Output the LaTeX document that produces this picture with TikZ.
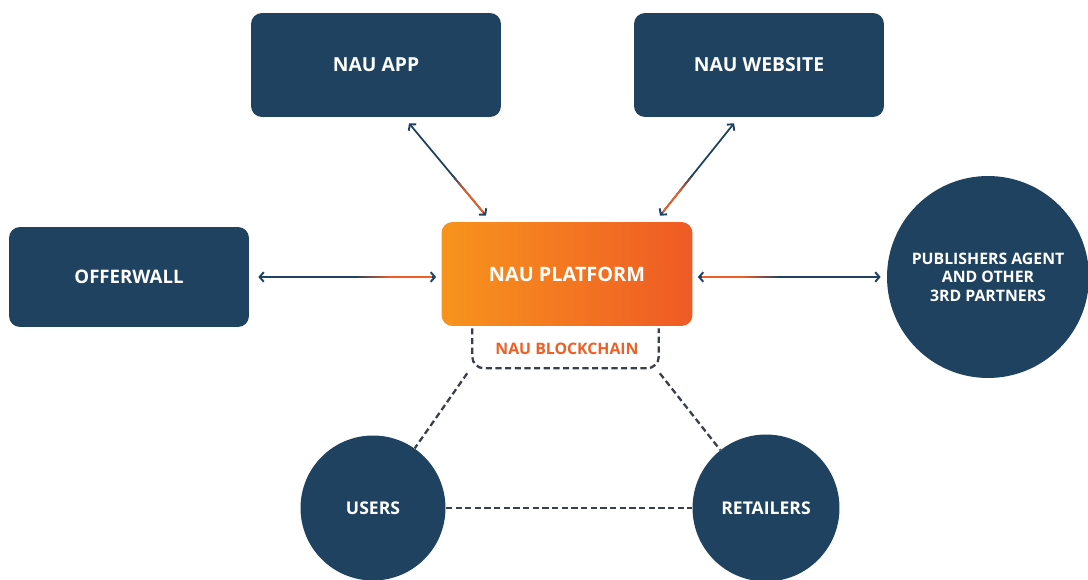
\documentclass[tikz,border=0pt]{standalone}
\usepackage{fontspec}
\setmainfont{Open Sans}
\usetikzlibrary{calc,arrows.meta}
\definecolor{navy}{HTML}{1F4260}
\definecolor{nauorange}{HTML}{F05F23}
\definecolor{platformleft}{HTML}{F7941D}
\definecolor{platformright}{HTML}{EF5A24}
\definecolor{chaingrey}{HTML}{3A4049}
\tikzset{
	box/.style={fill=navy, rounded corners=0.22cm, minimum width=5cm, minimum height=2.08cm, text=white, font=\bfseries\fontsize{11}{13}\selectfont},
	ball/.style={circle, fill=navy, text=white, align=center, inner sep=0pt, font=\bfseries\fontsize{10}{12}\selectfont},
	link/.style={line width=1pt, draw=navy},
	tips/.style={{Straight Barb[length=2.4pt,width=5.5pt,line width=1.1pt]}-{Straight Barb[length=2.4pt,width=5.5pt,line width=1.1pt]}},
	chain/.style={draw=chaingrey, line width=1.3pt, dash pattern=on 3.5pt off 2pt},
}
% navy at #1, turning orange towards #2
\newcommand\fadelink[2]{%
	\draw[link, tips] (#1) -- (#2);
	\foreach \k in {1,...,9}
		\draw[link, draw=nauorange!\k0!navy] ($(#1)!{0.54+0.02*\k}!(#2)$) -- ($(#1)!{0.565+0.02*\k}!(#2)$);
	\draw[link, draw=nauorange, shorten >=2.4pt] ($(#1)!0.74!(#2)$) -- (#2);
}
\begin{document}
\begin{tikzpicture}[x=0.02cm, y=-0.02cm]
		%%%%% START %%%%%
		\useasboundingbox[fill=white] (0, 0) rectangle (1088, 580);
		
		\node[box] (app) at (376, 65) {NAU APP};
		\node[box] (website) at (759, 65) {NAU WEBSITE};
		\node[box, minimum width=4.8cm, minimum height=2cm, font=\bfseries\fontsize{10.6}{13}\selectfont] (offerwall) at (129, 277) {OFFERWALL};
		\node[box, fill=none, left color=platformleft, right color=platformright, minimum width=5.02cm, font=\bfseries\fontsize{11.3}{13}\selectfont] (platform) at (567, 274) {NAU PLATFORM};
		
		\node[ball, minimum size=4.04cm, font=\bfseries\fontsize{9}{10.6}\selectfont] (publishers) at (988, 277) {PUBLISHERS AGENT\\AND OTHER\\3RD PARTNERS};
		\node[ball, minimum size=2.9cm] (users) at (373, 508) {USERS};
		\node[ball, minimum size=2.94cm] (retailers) at (766, 508) {RETAILERS};
		
		% blockchain under the platform
		\node[text=nauorange, font=\bfseries\fontsize{9}{10}\selectfont] (chainlabel) at (567, 349) {NAU BLOCKCHAIN};
		\draw[chain, rounded corners=0.24cm] ($(platform.south west)+(31, 2)$) -- ($(platform.south west)+(31, 42)$) -- ($(platform.south east)+(-34, 42)$) -- ($(platform.south east)+(-34, 2)$);
		\coordinate (chainleft) at ($(platform.south west)+(26, 47)$);
		\coordinate (chainright) at ($(platform.south east)+(-33, 47)$);
		\draw[chain] (chainleft) -- (users);
		\draw[chain] (chainright) -- (retailers);
		\draw[chain] (users) -- (retailers);
		
		% arrows to the platform
		\coordinate (append) at ($(app.south)+(33, 6)$);
		\coordinate (apptip) at ($(platform.north)+(-81, -6)$);
		\coordinate (webend) at ($(website.south)+(-25, 6)$);
		\coordinate (webtip) at ($(platform.north)+(93, -6)$);
		\coordinate (offerend) at ($(offerwall.east)+(9, 0)$);
		\coordinate (offertip) at ($(offerwall.east -| platform.west)+(-5, 0)$);
		\coordinate (pubend) at ($(publishers.west)+(-6, 0)$);
		\coordinate (pubtip) at ($(publishers.west -| platform.east)+(5, 0)$);
		\fadelink{append}{apptip}
		\fadelink{webend}{webtip}
		\fadelink{offerend}{offertip}
		\fadelink{pubend}{pubtip}
		
		%%%%% END %%%%%
	\end{tikzpicture}
\end{document}
